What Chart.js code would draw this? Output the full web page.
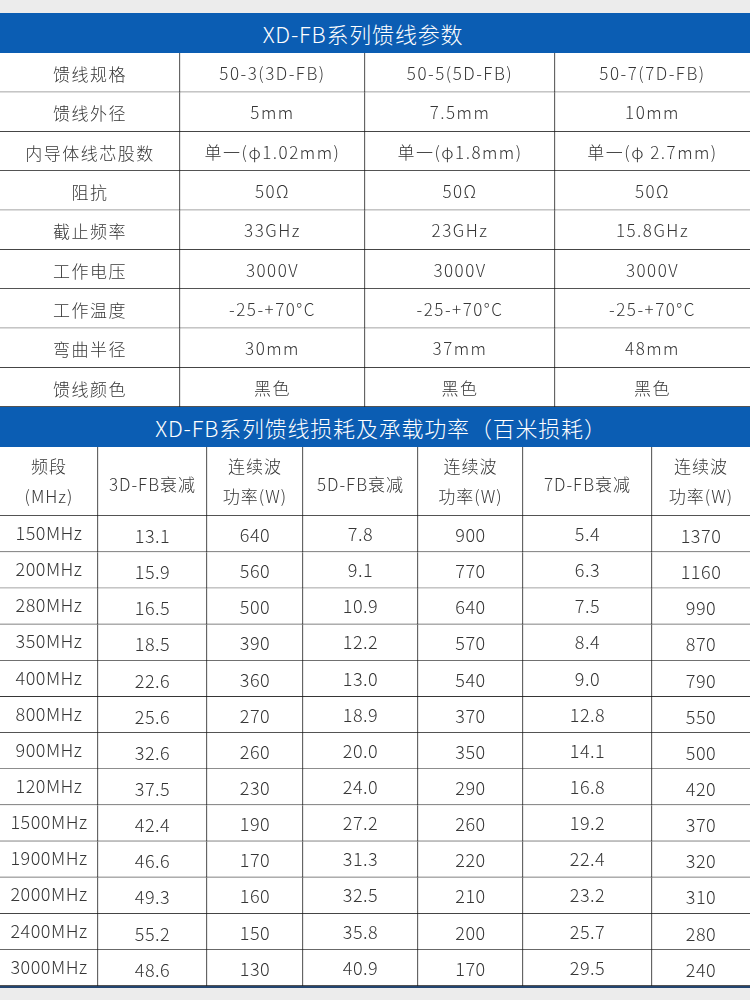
<!DOCTYPE html>
<html lang="zh-CN">
<head>
<meta charset="utf-8">
<title>XD-FB系列馈线参数</title>
<script src="https://cdn.jsdelivr.net/npm/chart.js@4.4.1/dist/chart.umd.min.js"></script>
<style>
  html, body { margin: 0; padding: 0; }
  body { width: 750px; height: 1000px; overflow: hidden; background: #ececec;
         font-family: "Noto Sans CJK SC", "Noto Sans", sans-serif; }
  .page { padding-top: 13px; }
  .band { height: 40px; line-height: 40px; background: #0b5db3; color: #fff;
          text-align: center; font-size: 22px; font-weight: 300; letter-spacing: 0.8px; }
  .band.first { padding-right: 24px; }
  .band.second { padding-left: 12px; }
  canvas { display: block; background: #fff; }
  .foot { height: 2px; background: #23456f; }
</style>
</head>
<body>
<div class="page">
  <div class="band first">XD-FB系列馈线参数</div>
  <canvas id="specChart" width="750" height="354"></canvas>
  <div class="band second">XD-FB系列馈线损耗及承载功率（百米损耗）</div>
  <canvas id="headChart" width="750" height="69"></canvas>
  <canvas id="lossChart" width="750" height="470"></canvas>
  <div class="foot"></div>
</div>

<script>
// ── Data: cable parameters ──────────────────────
const specLabels = ['馈线规格', '馈线外径', '内导体线芯股数', '阻抗', '截止频率', '工作电压', '工作温度', '弯曲半径', '馈线颜色'];
const spec3D = ['50-3(3D-FB)', '5mm', '单一(φ1.02mm)', '50Ω', '33GHz', '3000V', '-25-+70°C', '30mm', '黑色'];
const spec5D = ['50-5(5D-FB)', '7.5mm', '单一(φ1.8mm)', '50Ω', '23GHz', '3000V', '-25-+70°C', '37mm', '黑色'];
const spec7D = ['50-7(7D-FB)', '10mm', '单一(φ 2.7mm)', '50Ω', '15.8GHz', '3000V', '-25-+70°C', '48mm', '黑色'];

// ── Data: loss and power per 100 m ──────────────
const lossHeaders = ['频段\n(MHz)', '3D-FB衰减', '连续波\n功率(W)', '5D-FB衰减', '连续波\n功率(W)', '7D-FB衰减', '连续波\n功率(W)'];
const freqs = ['150MHz', '200MHz', '280MHz', '350MHz', '400MHz', '800MHz', '900MHz', '120MHz', '1500MHz', '1900MHz', '2000MHz', '2400MHz', '3000MHz'];
const loss3D = [13.1, 15.9, 16.5, 18.5, 22.6, 25.6, 32.6, 37.5, 42.4, 46.6, 49.3, 55.2, 48.6];
const power3D = [640, 560, 500, 390, 360, 270, 260, 230, 190, 170, 160, 150, 130];
const loss5D = [7.8, 9.1, 10.9, 12.2, 13.0, 18.9, 20.0, 24.0, 27.2, 31.3, 32.5, 35.8, 40.9];
const power5D = [900, 770, 640, 570, 540, 370, 350, 290, 260, 220, 210, 200, 170];
const loss7D = [5.4, 6.3, 7.5, 8.4, 9.0, 12.8, 14.1, 16.8, 19.2, 22.4, 23.2, 25.7, 29.5];
const power7D = [1370, 1160, 990, 870, 790, 550, 500, 420, 370, 320, 310, 280, 240];

// ── Layout (column edges on the 0..750 x scale) ─
const SPEC_EDGES = [0, 180, 365, 555, 750];
const LOSS_EDGES = [0, 98, 207, 303, 418, 523, 652, 750];
const LOSS_DY = [-1, 2, 1, 0, 1, 0, 2];
const LINE = '#1a1a1a';
const INK = '#363636';
const FONT = '"Noto Sans CJK SC", "Noto Sans", sans-serif';

// draws each cell's text in the middle of its bar
const cellText = {
  id: 'cellText',
  afterDatasetsDraw(chart, args, opts) {
    const ctx = chart.ctx;
    ctx.save();
    ctx.fillStyle = INK;
    ctx.textAlign = 'center';
    ctx.textBaseline = 'middle';
    ctx.font = `300 ${opts.size}px ${FONT}`;
    ctx.letterSpacing = opts.spacing;
    chart.data.datasets.forEach((ds, i) => {
      const dy = (opts.dy && opts.dy[i]) || 0;
      chart.getDatasetMeta(i).data.forEach((bar, j) => {
        const lines = String(ds.cellLabels[j]).split('\n');
        const cx = (bar.x + bar.base) / 2;
        const top = bar.y - (lines.length - 1) * opts.lineHeight / 2;
        lines.forEach((t, k) => ctx.fillText(t, cx, top + k * opts.lineHeight + dy));
      });
    });
    ctx.restore();
  }
};

function makeTable(id, rowLabels, columns, edges, textOpts) {
  const last = columns.length - 1;
  const datasets = columns.map((col, i) => ({
    data: rowLabels.map(() => [edges[i], edges[i + 1]]),
    cellLabels: col,
    backgroundColor: '#fff',
    borderColor: LINE,
    borderWidth: { top: 0, left: 0, right: i === last ? 0 : 1, bottom: 1 },
    borderSkipped: false,
    grouped: false,
    barPercentage: 1,
    categoryPercentage: 1
  }));
  return new Chart(document.getElementById(id), {
    type: 'bar',
    data: { labels: rowLabels, datasets },
    options: {
      indexAxis: 'y',
      responsive: false,
      animation: false,
      layout: { padding: 0 },
      plugins: { legend: { display: false }, tooltip: { enabled: false }, cellText: textOpts },
      scales: {
        x: { type: 'linear', min: 0, max: 750, display: false },
        y: { display: false }
      }
    },
    plugins: [cellText]
  });
}

document.addEventListener('DOMContentLoaded', () => {
  'use strict';

  makeTable('specChart', specLabels, [specLabels, spec3D, spec5D, spec7D], SPEC_EDGES,
    { size: 17, spacing: '1.5px', lineHeight: 30, dy: [2, 1, 1, 1] });

  makeTable('headChart', ['header'], lossHeaders.map(h => [h]), LOSS_EDGES,
    { size: 17, spacing: '1px', lineHeight: 30, dy: [0, 3, 0, 3, 0, 3, 0] });

  const fmt = arr => arr.map(v => v.toFixed(1));
  makeTable('lossChart', freqs,
    [freqs, fmt(loss3D), power3D, fmt(loss5D), power5D, fmt(loss7D), power7D], LOSS_EDGES,
    { size: 18, spacing: '0.5px', lineHeight: 30, dy: LOSS_DY });
});
</script>
</body>
</html>
